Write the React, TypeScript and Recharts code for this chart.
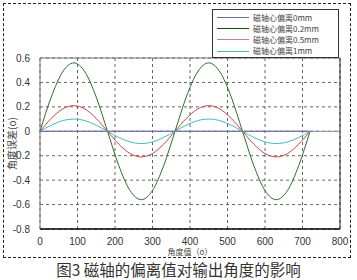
import React from 'react';
import {
    LineChart,
    Line,
    XAxis,
    YAxis,
    CartesianGrid,
    Legend,
    ReferenceLine,
} from 'recharts';

// angle (deg), sampled every 30 degrees
const angles = [0, 30, 60, 90, 120, 150, 180, 210, 240, 270, 300, 330, 360, 390, 420, 450, 480, 510, 540, 570, 600, 630, 660, 690, 720];

// error values
const offset0mm = [0, 0, 0, 0, 0, 0, 0, 0, 0, 0, 0, 0, 0, 0, 0, 0, 0, 0, 0, 0, 0, 0, 0, 0, 0];
const offset02mm = [0, 0.28, 0.485, 0.56, 0.485, 0.28, 0, -0.28, -0.485, -0.56, -0.485, -0.28, 0, 0.28, 0.485, 0.56, 0.485, 0.28, 0, -0.28, -0.485, -0.56, -0.485, -0.28, 0];
const offset05mm = [0, 0.105, 0.182, 0.21, 0.182, 0.105, 0, -0.105, -0.182, -0.21, -0.182, -0.105, 0, 0.105, 0.182, 0.21, 0.182, 0.105, 0, -0.105, -0.182, -0.21, -0.182, -0.105, 0];
const offset1mm = [0, 0.05, 0.087, 0.1, 0.087, 0.05, 0, -0.05, -0.087, -0.1, -0.087, -0.05, 0, 0.05, 0.087, 0.1, 0.087, 0.05, 0, -0.05, -0.087, -0.1, -0.087, -0.05, 0];

const xTicks = [0, 100, 200, 300, 400, 500, 600, 700, 800];
const yTicks = [-0.8, -0.6, -0.4, -0.2, 0, 0.2, 0.4, 0.6];

const seriesNames = ['磁轴心偏离0mm', '磁轴心偏离0.2mm', '磁轴心偏离0.5mm', '磁轴心偏离1mm'];
const seriesColors = ['#7070a8', '#2a6e2a', '#cc4444', '#44b8b8'];
const legendColors = ['#6b6b9b', '#1a4a1a', '#c88080', '#55b0b0'];

const data = angles.map((a, i) => ({
    angle: a,
    s0: offset0mm[i],
    s1: offset02mm[i],
    s2: offset05mm[i],
    s3: offset1mm[i],
}));

const tickStyle = { fill: '#333', fontSize: 10, fontFamily: '"Liberation Sans", Arial, sans-serif' };

function LegendBox() {
    return (
        <div
            style={{
                width: 127,
                height: 49,
                border: '1px solid #333',
                background: '#fff',
                boxSizing: 'border-box',
                paddingTop: 2,
            }}
        >
            {seriesNames.map((n, i) => (
                <div key={n} style={{ display: 'flex', alignItems: 'center', height: 11.2, marginLeft: 4 }}>
                    <div style={{ width: 32, height: 0, borderTop: `1px solid ${legendColors[i]}` }} />
                    <span
                        style={{
                            marginLeft: 4,
                            fontSize: 8,
                            color: '#444',
                            lineHeight: '10px',
                            fontFamily: '"Noto Sans CJK SC", sans-serif',
                            whiteSpace: 'nowrap',
                        }}
                    >
                        {n}
                    </span>
                </div>
            ))}
        </div>
    );
}

export default function App() {
    return (
        <div style={{ position: 'fixed', left: 0, top: 0, width: 357, height: 280, background: '#fff' }}>
            <div
                style={{
                    position: 'absolute',
                    left: 3,
                    top: 3,
                    width: 348,
                    height: 255,
                    border: '1px dashed #222',
                    boxSizing: 'border-box',
                }}
            />
            <LineChart
                width={357}
                height={280}
                data={data}
                margin={{ top: 9, right: 17, bottom: 25, left: 0 }}
            >
                <CartesianGrid stroke="#666" strokeDasharray="3 3" />
                <XAxis
                    dataKey="angle"
                    type="number"
                    domain={[0, 800]}
                    ticks={xTicks}
                    height={26}
                    tickLine={false}
                    tickMargin={3}
                    axisLine={{ stroke: '#000', strokeWidth: 1.5 }}
                    tick={tickStyle}
                    label={{
                        value: '角度值（o）',
                        position: 'insideBottom',
                        offset: 0,
                        fontSize: 8,
                        fill: '#444',
                        fontFamily: '"Noto Sans CJK SC", sans-serif',
                    }}
                />
                <YAxis
                    type="number"
                    domain={[-0.8, 0.6]}
                    ticks={yTicks}
                    width={40}
                    tickLine={false}
                    tickMargin={4}
                    axisLine={{ stroke: '#777' }}
                    tick={tickStyle}
                    interval={0}
                    label={{
                        value: '角度误差(o)',
                        angle: -90,
                        position: 'center',
                        dx: -8,
                        fontSize: 10,
                        fill: '#444',
                        fontFamily: '"Noto Sans CJK SC", sans-serif',
                    }}
                />
                <ReferenceLine y={0.6} stroke="#777" />
                <ReferenceLine x={800} stroke="#222" />
                <ReferenceLine y={0} stroke="#8888aa" />
                <Legend
                    verticalAlign="top"
                    align="right"
                    wrapperStyle={{ position: 'absolute', left: 212, top: 9, width: 127 }}
                    content={() => <LegendBox />}
                />
                {['s0', 's1', 's2', 's3'].map((k, i) => (
                    <Line
                        key={k}
                        dataKey={k}
                        name={seriesNames[i]}
                        type="monotone"
                        stroke={seriesColors[i]}
                        strokeWidth={1}
                        dot={false}
                        isAnimationActive={false}
                    />
                ))}
            </LineChart>
            <div
                style={{
                    position: 'absolute',
                    left: 0,
                    top: 259,
                    width: 357,
                    textAlign: 'center',
                    fontSize: 15.5,
                    color: '#333',
                    fontFamily: '"Noto Sans CJK SC", sans-serif',
                    lineHeight: '20px',
                }}
            >
                图3 磁轴的偏离值对输出角度的影响
            </div>
        </div>
    );
}
